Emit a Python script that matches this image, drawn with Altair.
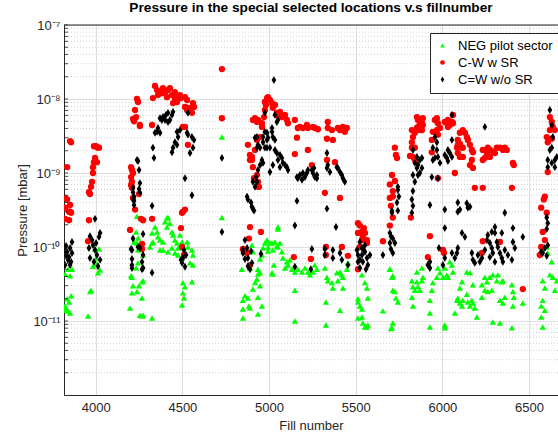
import altair as alt
import pandas as pd

# ---- data (fill number, pressure in mbar) ----
neg_fill = [3823, 3835, 3840, 3852, 3858, 3852, 3823, 3840, 3863, 3817, 3846, 3830,
            3967, 3956, 3996, 4019, 4007, 3984, 4013, 3973, 4025, 4002,
            4204, 4215, 4209, 4198, 4238, 4250, 4267, 4273, 4267, 4273, 4233, 4244, 4244, 4238,
            4238, 4233, 4221, 4244, 4209, 4255, 4325, 4267,
            4342, 4354, 4359, 4371, 4388, 4400, 4417, 4428, 4411, 4440, 4446, 4457, 4469, 4475,
            4486, 4498, 4527, 4532, 4555, 4561, 4544, 4561, 4313, 4330, 4371, 4388, 4417, 4440,
            4457, 4475, 4498, 4503, 4515, 4503, 4509, 4498, 4555, 4267, 4273, 4325, 4325, 4411,
            4728, 4728,
            4843, 4861, 4849, 4849, 4878, 4884, 4890, 4907, 4919, 4930, 4936, 4948, 4948, 4936,
            4959, 4988, 4994, 5005, 5022, 5051, 5045, 4901, 4907, 4890, 4959, 4948, 4976, 4988,
            4994, 5017, 5022, 5034, 5051, 5063, 5074, 5080, 5092, 5103, 5109, 5132, 5149, 5166,
            5190, 5207, 5224, 5236, 5253, 5264, 5276, 5322, 5334, 5339, 5363, 5368, 5391, 5409,
            5420, 5426, 5449, 5455, 5397, 5426, 5051, 4936, 5149, 5149, 5328, 5328, 5409, 5017,
            5028, 5120, 4965, 4849, 4936,
            5513, 5524, 5536, 5513, 5536, 5541, 5553, 5565, 5570, 5553, 5565, 5570, 5536, 5513,
            5657, 5697, 5709, 5709, 5697, 5714, 5726, 5732, 5714, 5703, 5743, 5714,
            5824, 5830, 5841, 5853, 5859, 5870, 5882, 5887, 5882, 5853, 5824, 5830, 5928, 5928,
            5939, 5945, 5968, 5974, 5986, 6003, 6026, 6032, 6055, 6061, 6014, 6043, 6084, 6089,
            6101, 6113, 6118, 6141, 6147, 6159, 6170, 6176, 6187, 6141, 6159, 6072, 6101, 6113,
            6176, 6228, 6245, 6257, 6274, 6291, 6314, 6320, 6245, 6262, 6285, 6228, 6199, 6332,
            6349, 6360, 6343, 6291, 6332, 6349, 6401, 6407, 6412, 6407, 6464, 6401, 5928, 6014,
            6014,
            6602, 6608, 6631, 6620, 6637, 6660, 6649, 6579, 6591, 6579, 6570, 6591, 6570, 6579]
neg_p = [1.6e-11, 2.0e-11, 1.37e-11, 1.28e-11, 2.2e-11, 4.1e-11, 4.3e-11, 5.0e-11, 5.0e-11, 1.4e-11, 1.8e-11, 1.5e-11,
         2.5e-11, 1.17e-11, 9.4e-11, 9.4e-11, 5.9e-11, 5.5e-11, 4.5e-11, 2.6e-11, 4.9e-11, 7.1e-11,
         4.1e-11, 3.0e-11, 2.4e-11, 1.5e-11, 2.5e-11, 3.0e-11, 2.05e-11, 3.5e-11, 1.17e-11, 1.2e-11, 5.2e-11, 6.1e-11, 1.32e-10, 1.13e-10,
         2.6e-10, 1.6e-10, 1.17e-10, 9.1e-11, 3.9e-11, 1.2e-11, 1.1e-11, 3.4e-11,
         1.86e-10, 1.6e-10, 1.37e-10, 1.24e-10, 1.17e-10, 2.2e-10, 2.5e-10, 2.1e-10, 1.86e-10, 1.6e-10, 1.45e-10, 1.24e-10, 1.13e-10, 9.7e-11,
         1.45e-10, 1.17e-10, 1.17e-10, 1.0e-10, 9.1e-11, 7.8e-11, 6.1e-11, 5.7e-11, 1.0e-10, 1.17e-10, 9.1e-11, 9.1e-11, 8.6e-11, 9.7e-11,
         8.3e-11, 7.8e-11, 7.1e-11, 3.3e-11, 2.9e-11, 2.4e-11, 2.05e-11, 1.65e-11, 3.4e-11, 1.0e-10, 7.8e-11, 1.13e-10, 1.55e-10, 2.46e-10,
         3.06e-9, 2.5e-10,
         5.0e-11, 2.2e-11, 1.45e-11, 1.1e-11, 2.05e-11, 1.6e-11, 1.5e-11, 2.7e-11, 3.3e-11, 3.7e-11, 4.3e-11, 4.5e-11, 3.0e-11, 1.24e-11,
         1.6e-11, 1.21e-10, 8.8e-11, 1.13e-10, 4.3e-11, 1.75e-10, 1.03e-10, 1.06e-10, 8.6e-11, 5.2e-11, 7.8e-11, 6.9e-11, 1.13e-10, 1.24e-10,
         1.0e-10, 1.13e-10, 9.1e-11, 1.17e-10, 1.0e-10, 1.13e-10, 8.6e-11, 7.1e-11, 5.2e-11, 6.3e-11, 5.7e-11, 5.0e-11, 4.6e-11, 5.0e-11,
         4.6e-11, 5.2e-11, 4.6e-11, 4.2e-11, 4.6e-11, 5.7e-11, 5.0e-11, 5.2e-11, 3.9e-11, 3.5e-11, 3.3e-11, 2.8e-11, 4.5e-11, 4.6e-11,
         4.2e-11, 3.9e-11, 5.0e-11, 6.1e-11, 3.5e-11, 2.8e-11, 1.86e-10, 5.0e-11, 2.6e-11, 1.0e-11, 8.8e-12, 1.8e-11, 1.4e-11, 4.5e-11,
         5.7e-11, 6.7e-11, 9.7e-11, 1.9e-11, 2.1e-11,
         1.8e-11, 1.6e-11, 1.45e-11, 1.1e-11, 1.13e-11, 9.4e-12, 8.3e-12, 8.3e-12, 8.8e-12, 3.3e-11, 2.8e-11, 2.05e-11, 4.2e-11, 2.0e-11,
         1.37e-11, 5.0e-11, 3.9e-11, 8.1e-12, 5.0e-11, 4.1e-11, 2.5e-11, 2.05e-11, 9.4e-12, 7.9e-12, 1.8e-11, 2.6e-11,
         3.5e-11, 2.9e-11, 2.6e-11, 3.4e-11, 2.9e-11, 2.6e-11, 3.5e-11, 3.9e-11, 5.2e-11, 4.6e-11, 2.1e-11, 1.6e-11, 1.28e-11, 1.9e-11,
         2.6e-11, 3.3e-11, 3.9e-11, 5.2e-11, 4.5e-11, 3.9e-11, 4.2e-11, 3.9e-11, 5.7e-11, 4.6e-11, 5.2e-11, 6.3e-11, 1.9e-11, 2.05e-11,
         1.75e-11, 1.6e-11, 1.9e-11, 2.3e-11, 1.8e-11, 1.6e-11, 1.9e-11, 1.75e-11, 1.5e-11, 4.6e-11, 4.5e-11, 1.28e-11, 2.8e-11, 3.4e-11,
         3.1e-11, 3.1e-11, 3.9e-11, 3.4e-11, 3.9e-11, 4.2e-11, 3.5e-11, 4.2e-11, 2.6e-11, 2.5e-11, 2.6e-11, 2.1e-11, 1.13e-11, 1.9e-11,
         1.75e-11, 2.1e-11, 3.4e-11, 9.7e-12, 9.4e-12, 3.5e-11, 3.1e-11, 2.5e-11, 2.1e-11, 1.6e-11, 1.75e-11, 8.1e-12, 8.3e-12, 8.8e-12,
         8.1e-12,
         1.0e-10, 8.3e-11, 6.3e-11, 4.2e-11, 3.9e-11, 3.5e-11, 2.6e-11, 3.5e-11, 2.8e-11, 1.9e-11, 1.6e-11, 1.4e-11, 1.13e-11, 8.3e-12]

cw_fill = [3852, 3858, 3835, 3823, 3835, 3852, 3846, 3858, 3823, 3817, 3852, 3846, 3823,
           3961, 3973, 3979, 3984, 3984, 3990, 3996, 3990, 4002, 4013, 4019, 4007, 3967, 3956, 3961,
           4204, 4209, 4209, 4215, 4215, 4238, 4244, 4227, 4233, 4215, 4221, 4255, 4255, 4204, 4209,
           4204, 4209, 4250, 4227, 4261, 4198, 4273, 4267, 4267,
           4342, 4354, 4330, 4359, 4382, 4400, 4417, 4428, 4411, 4440, 4457, 4469, 4446, 4475, 4515,
           4527, 4532, 4561, 4567, 4538, 4555, 4325, 4515, 4532, 4503, 4515, 4498, 4492, 4503, 4515,
           4527, 4561, 4492, 4509, 4325, 4498, 4371, 4388, 4457, 4486,
           4728, 4728,
           4878, 4890, 4901, 4890, 4901, 4907, 4930, 4936, 4942, 4913, 4919, 4936, 4959, 4976, 4976,
           4988, 5005, 5017, 5022, 5034, 5045, 4919, 4930, 4948, 4959, 4971, 4982, 4994, 5045, 5063,
           5074, 5092, 5103, 5109, 4907, 4930, 5149, 5166, 5178, 5195, 5218, 5224, 5253, 5264, 5282,
           5339, 5339, 5363, 5397, 5409, 5426, 5437, 5449, 5161, 5224, 5149, 5334, 5368, 5247, 5334,
           5380, 5322, 5409, 4936, 4849, 4873, 4890, 4884, 4953, 4890, 5143, 5241, 5328, 5328, 5420,
           5455,
           5524, 5536, 5513, 5541, 5553, 5536, 5565, 5565, 5524, 5513, 5513, 5547,
           5697, 5714, 5726, 5732, 5738, 5709, 5697, 5714, 5703, 5714, 5657, 5697,
           5824, 5830, 5824, 5824, 5841, 5830, 5841, 5853, 5859, 5870, 5882, 5853, 5870, 5887, 5887,
           5882, 5841, 5859, 5939, 5945, 5957, 5968, 5974, 5968, 5974, 5986, 6014, 6026, 6032, 6043,
           6055, 6061, 6032, 6061, 5726, 5813, 5974, 5939, 5818,
           6089, 6101, 6113, 6089, 6084, 6130, 6141, 6147, 6159, 6118, 6170, 6176, 6170, 6159, 6176,
           6101, 6118, 6072, 6101, 6118, 6089, 6187, 6233, 6233, 6257, 6274, 6291, 6314, 6332, 6360,
           6372, 6245, 6274, 6303, 6407, 6412, 6401, 6233, 5928, 5916, 6003, 6009, 6233, 6228, 6332,
           6464, 6262, 6349,
           6620, 6631, 6637, 6649, 6620, 6608, 6602, 6631, 6608, 6591, 6585, 6570, 6602, 6579, 6591,
           6570, 6562]
cw_p = [2.7e-9, 2.6e-9, 1.2e-9, 4.6e-10, 4.4e-10, 3.7e-10, 3.0e-10, 2.9e-10, 3.4e-10, 3.4e-10, 3.0e-10, 2.3e-10, 2.4e-10,
        5.5e-10, 6.5e-10, 7.6e-10, 1.0e-9, 1.2e-9, 1.4e-9, 1.6e-9, 2.3e-9, 2.3e-9, 2.2e-9, 2.2e-9, 1.4e-9, 5.2e-10, 1.2e-10, 2.3e-10,
        8.8e-10, 7.6e-10, 6.5e-10, 4.6e-10, 1.0e-9, 1.0e-8, 9.1e-9, 7.1e-9, 5.7e-9, 5.4e-9, 5.0e-9, 4.45e-9, 4.3e-9, 1.2e-9, 1.1e-9,
        6.9e-10, 6.3e-10, 5.2e-10, 3.2e-10, 2.4e-10, 1.7e-10, 2.3e-10, 1.1e-10, 9.4e-11,
        1.5e-8, 1.32e-8, 1.03e-8, 1.13e-8, 1.2e-8, 1.24e-8, 1.32e-8, 1.4e-8, 1.06e-8, 1.13e-8, 1.03e-8, 9.1e-9, 8.8e-9, 1.06e-8, 1.06e-8,
        9.7e-9, 7.6e-9, 8.8e-9, 7.8e-9, 6.7e-9, 6.5e-9, 4.45e-9, 4.2e-9, 2.4e-9, 3.0e-10, 3.2e-10, 2.9e-10, 1.03e-8, 4.2e-9, 7.8e-9,
        7.1e-9, 7.8e-9, 1.8e-10, 7.8e-11, 2.4e-10, 1.0e-10, 1.24e-8, 1.4e-8, 1.24e-8, 1.13e-8,
        2.54e-8, 5.5e-9,
        2.4e-9, 1.75e-9, 1.65e-9, 1.5e-9, 1.5e-9, 1.2e-9, 9.4e-10, 7.6e-10, 6.5e-10, 8.5e-10, 5.5e-9, 5.2e-9, 4.7e-9, 7.1e-9, 9.1e-9,
        1.03e-8, 9.7e-9, 8.8e-9, 7.6e-9, 8.3e-9, 6.1e-9, 2.05e-9, 2.8e-9, 3.06e-9, 4.2e-9, 5.7e-9, 8.3e-9, 1.06e-8, 6.5e-9, 6.7e-9,
        5.7e-9, 6.1e-9, 5.2e-9, 4.7e-9, 5.2e-9, 4.9e-9, 5.2e-9, 4.06e-9, 4.2e-9, 4.06e-9, 4.45e-9, 4.06e-9, 4.2e-9, 4.06e-9, 3.9e-9,
        4.9e-9, 4.06e-9, 3.8e-9, 4.06e-9, 3.8e-9, 4.2e-9, 3.6e-9, 4.06e-9, 3.0e-9, 2.05e-9, 1.8e-9, 2.9e-9, 2.8e-9, 1.28e-9, 1.5e-9,
        1.4e-9, 5.4e-10, 4.6e-10, 6.5e-10, 9.4e-11, 8.3e-11, 1.86e-10, 1.3e-10, 1.6e-10, 5.7e-11, 7.3e-11, 6.9e-11, 1.0e-10, 7.8e-11, 1.0e-10,
        7.6e-11,
        1.95e-10, 1.6e-10, 1.55e-10, 1.37e-10, 1.55e-10, 1.24e-10, 1.24e-10, 1.13e-10, 1.0e-10, 5.0e-11, 2.1e-10, 1.8e-10,
        4.6e-10, 5.7e-10, 7.8e-10, 1.75e-9, 1.6e-9, 9.4e-10, 7.0e-10, 4.8e-10, 3.6e-10, 2.5e-10, 1.2e-10, 1.95e-10,
        3.8e-9, 3.06e-9, 2.6e-9, 2.2e-9, 2.2e-9, 1.65e-9, 1.5e-9, 5.7e-9, 5.2e-9, 4.9e-9, 4.7e-9, 4.06e-9, 3.8e-9, 4.45e-9, 5.5e-9,
        3.8e-9, 3.5e-9, 4.2e-9, 2.8e-9, 3.6e-9, 5.2e-9, 5.5e-9, 4.7e-9, 3.8e-9, 3.3e-9, 4.06e-9, 4.9e-9, 4.7e-9, 5.2e-9, 4.45e-9,
        4.9e-9, 4.7e-9, 4.2e-9, 6.1e-9, 2.2e-9, 1.7e-9, 8.5e-10, 1.9e-9, 2.5e-10,
        2.8e-9, 2.5e-9, 2.2e-9, 2.4e-9, 2.2e-9, 3.5e-9, 3.06e-9, 2.8e-9, 2.4e-9, 2.2e-9, 2.05e-9, 1.9e-9, 1.5e-9, 1.28e-9, 1.17e-9,
        1.65e-9, 1.65e-9, 1.0e-9, 3.5e-9, 3.8e-9, 1.86e-9, 6.3e-10, 6.3e-10, 2.05e-9, 1.86e-9, 2.05e-9, 1.95e-9, 2.2e-9, 2.2e-9, 2.2e-9,
        2.05e-9, 1.6e-9, 1.65e-9, 1.86e-9, 1.37e-9, 1.28e-9, 6.3e-10, 1.5e-9, 1.4e-10, 7.3e-11, 9.1e-11, 8.3e-11, 1.2e-10, 8.3e-11, 1.17e-10,
        2.7e-11, 2.2e-9, 2.05e-9,
        5.7e-9, 4.9e-9, 4.2e-9, 3.8e-9, 3.8e-9, 2.6e-9, 3.06e-9, 2.9e-9, 1.03e-9, 4.8e-10, 4.4e-10, 3.4e-10, 2.9e-10, 1.6e-10, 1.24e-10,
        1.0e-10, 7.8e-11]

cwo_fill = [3817, 3829, 3840, 3852, 3858, 3823, 3835, 3846, 3863, 3852, 3829, 3863,
            3967, 3979, 3984, 3996, 4007, 3967, 3990, 4013, 4025, 4002, 4019, 3961, 4025, 3996,
            4238, 4244, 4250, 4255, 4215, 4215, 4221, 4221, 4250, 4255, 4215, 4221, 4204, 4209, 4209,
            4273, 4267, 4273, 4215, 4244, 4255, 4273, 4209, 4209, 4267,
            4371, 4382, 4388, 4405, 4417, 4440, 4446, 4428, 4359, 4354, 4342, 4371, 4469, 4475, 4457,
            4469, 4446, 4440, 4532, 4527, 4532, 4555, 4567, 4561, 4544, 4330, 4336, 4515, 4555, 4325,
            4400, 4417, 4486, 4503, 4498, 4515, 4492, 4509, 4521, 4325,
            4728, 4728,
            4873, 4878, 4896, 4901, 4907, 4913, 4919, 4930, 4925, 4936, 4948, 4959, 4930, 4936, 4919,
            4930, 4965, 4976, 4988, 4976, 4988, 4994, 5017, 5022, 5034, 5051, 5045, 4976, 5005, 5022,
            5034, 5063, 5074, 5080, 5092, 5103, 5109, 5028, 4907, 4965, 4948, 4965, 5017, 4988, 5005,
            5045, 5051, 5063, 5034,
            5161, 5178, 5195, 5218, 5190, 5166, 5253, 5264, 5276, 5259, 5276, 5207, 5224, 5247, 5334,
            5339, 5351, 5334, 5397, 5409, 5420, 5426, 5437, 5391, 5161, 5334, 5149, 4953, 5386, 5149,
            5241, 5247, 5322, 5368, 5409, 5420, 5455, 5368, 5322,
            4849, 4861, 4873, 4878, 4890, 4896, 4878, 4861, 4849, 4901,
            5507, 5513, 5524, 5536, 5541, 5553, 5565, 5570, 5524, 5553, 5536, 5513, 5559, 5582, 5524,
            5547, 5657,
            5697, 5703, 5714, 5697, 5726, 5703, 5714, 5709, 5709, 5743, 5749, 5743, 5743, 5738,
            5830, 5853, 5841, 5859, 5870, 5882, 5853, 5870, 5859, 5882, 5830, 5841, 5830, 5824, 5830,
            5824, 5957, 5968, 5945, 5968, 5957, 5945, 5974, 5986, 5939, 6014, 6026, 6032, 6043, 6055,
            6032, 6055, 6055, 5974, 6014, 6245,
            6089, 6089, 6101, 6141, 6147, 6159, 6014, 6113, 6130, 5928, 6360, 6170, 6176, 6187, 6228,
            6245, 6257, 6262, 6274, 6285, 6291, 6303, 6314, 6320, 6332, 6343, 6349, 6303, 6274, 6360,
            6378, 6401, 6407, 6418, 6407, 6464, 6084, 6072, 6089, 6014, 6003, 6055, 5928, 5916, 5928,
            5980, 6285, 6303, 6343, 6205, 6216,
            6620, 6631, 6637, 6631, 6620, 6608, 6631, 6649, 6660, 6649, 6608, 6602, 6608, 6602, 6608,
            6591, 6579, 6602, 6570]
cwo_p = [9.1e-11, 7.8e-11, 6.7e-11, 9.7e-11, 6.3e-11, 5.7e-11, 8.6e-11, 7.3e-11, 1.17e-10, 5.7e-11, 1.03e-10, 8.3e-11,
         1.4e-10, 1.24e-10, 1.06e-10, 9.1e-11, 7.8e-11, 7.1e-11, 6.3e-11, 5.5e-11, 6.7e-11, 1.13e-10, 1.37e-10, 9.7e-11, 1.55e-10, 2.4e-10,
         1.5e-9, 1.45e-9, 1.1e-9, 7.3e-10, 6.3e-10, 5.5e-10, 4.8e-10, 4.2e-10, 6.1e-10, 5.4e-10, 4.4e-10, 3.7e-10, 9.4e-11, 6.9e-11, 5.2e-11,
         5.2e-11, 5.0e-11, 1.5e-10, 1.3e-10, 1.0e-10, 9.7e-11, 7.8e-11, 9.1e-11, 5.7e-11, 6.3e-11,
         5.5e-9, 5.2e-9, 5.7e-9, 6.1e-9, 6.5e-9, 6.1e-9, 6.7e-9, 5.2e-9, 4.06e-9, 3.6e-9, 3.5e-9, 3.5e-9, 3.6e-9, 3.06e-9, 2.6e-9,
         2.4e-9, 2.2e-9, 1.9e-9, 6.5e-9, 3.5e-9, 3.3e-9, 3.06e-9, 2.8e-9, 2.2e-9, 1.86e-9, 2.2e-9, 1.6e-9, 8.5e-10, 5.0e-10, 3.6e-10,
         5.2e-9, 4.9e-9, 3.8e-9, 7.1e-11, 6.1e-11, 5.4e-11, 6.7e-11, 9.1e-11, 7.8e-11, 4.5e-11,
         1.6e-9, 1.6e-10,
         4.8e-10, 4.4e-10, 4.0e-10, 3.5e-10, 3.3e-10, 3.1e-10, 6.5e-10, 7.6e-10, 8.8e-10, 1.1e-9, 1.28e-9, 1.5e-9, 2.2e-9, 2.4e-9, 3.0e-9,
         3.06e-9, 2.6e-9, 2.2e-9, 2.2e-9, 3.6e-9, 3.5e-9, 3.0e-9, 3.6e-9, 3.06e-9, 2.8e-9, 5.2e-9, 4.9e-9, 6.5e-9, 1.03e-9, 1.28e-9,
         2.05e-9, 1.75e-9, 1.6e-9, 1.37e-9, 1.28e-9, 1.2e-9, 1.1e-9, 1.8e-8, 7.6e-10, 1.37e-9, 2.2e-9, 3.06e-9, 4.06e-9, 2.8e-9, 2.2e-9,
         1.86e-9, 1.5e-9, 1.2e-9, 6.1e-9,
         8.8e-10, 9.4e-10, 1.0e-9, 1.0e-9, 8.1e-10, 8.5e-10, 1.0e-9, 8.8e-10, 9.4e-10, 1.17e-9, 8.5e-10, 8.8e-10, 1.1e-9, 1.1e-9, 1.17e-9,
         1.28e-9, 1.03e-9, 1.86e-9, 1.17e-9, 1.03e-9, 9.4e-10, 8.5e-10, 7.6e-10, 1.2e-9, 4.2e-10, 3.3e-10, 1.95e-10, 8.1e-11, 1.86e-10, 5.4e-11,
         5.0e-11, 9.4e-11, 9.4e-11, 9.1e-11, 8.3e-11, 6.7e-11, 5.7e-11, 7.1e-11, 7.8e-11,
         8.3e-11, 6.9e-11, 9.7e-11, 5.5e-11, 5.0e-11, 8.8e-11, 7.1e-11, 1.24e-10, 9.1e-11, 6.1e-11,
         9.1e-11, 7.8e-11, 6.7e-11, 9.7e-11, 6.3e-11, 8.6e-11, 7.1e-11, 5.7e-11, 5.2e-11, 1.06e-10, 7.8e-11, 6.3e-11, 5.0e-11, 7.8e-11, 1.17e-10,
         9.1e-11, 7.8e-11,
         1.55e-10, 1.4e-10, 1.3e-10, 1.13e-10, 1.13e-10, 9.4e-11, 8.3e-11, 3.1e-10, 2.9e-10, 6.5e-10, 4.8e-10, 3.1e-10, 5.9e-10, 4.0e-10,
         2.05e-9, 1.65e-9, 1.37e-9, 1.28e-9, 1.5e-9, 1.6e-9, 1.17e-9, 1.0e-9, 9.4e-10, 1.17e-9, 9.4e-10, 7.6e-10, 5.7e-10, 4.4e-10, 3.6e-10,
         2.9e-10, 3.06e-9, 2.6e-9, 2.2e-9, 2.05e-9, 1.6e-9, 1.5e-9, 1.65e-9, 1.37e-9, 8.8e-10, 1.75e-9, 1.6e-9, 2.05e-9, 1.86e-9, 1.65e-9,
         1.45e-9, 2.8e-9, 6.1e-9, 8.5e-10, 3.2e-10, 4.2e-9,
         4.0e-10, 3.0e-10, 3.2e-10, 3.9e-10, 3.4e-10, 3.5e-10, 1.8e-10, 1.55e-10, 1.37e-10, 3.7e-10, 2.9e-10, 8.3e-11, 6.7e-11, 6.1e-11, 7.1e-11,
         9.1e-11, 1.24e-10, 1.45e-10, 1.13e-10, 9.7e-11, 8.3e-11, 1.55e-10, 1.17e-10, 1.0e-10, 8.3e-11, 7.1e-11, 6.3e-11, 6.3e-11, 7.3e-11, 9.1e-11,
         7.8e-11, 6.7e-11, 1.17e-10, 9.7e-11, 1.8e-10, 1.37e-10, 8.3e-11, 7.1e-11, 9.7e-11, 7.1e-11, 5.7e-11, 8.3e-11, 5.2e-11, 5.7e-11, 6.3e-11,
         9.7e-11, 1.6e-10, 1.86e-10, 1.55e-10, 7.8e-11, 6.3e-11,
         7.1e-9, 4.45e-9, 3.06e-9, 2.2e-9, 2.05e-9, 1.5e-9, 1.37e-9, 1.5e-9, 1.65e-9, 1.2e-9, 1.2e-9, 2.5e-10, 2.1e-10, 1.75e-10, 1.06e-10,
         9.7e-11, 8.3e-11, 7.6e-11, 8.6e-11]

series_names = ["NEG pilot sector", "C-W w SR", "C=W w/o SR"]
series_colors = ["#00ff00", "#ff0000", "#000000"]
series_shapes = ["triangle-up", "circle", "M0,-1.25L0.75,0L0,1.25L-0.75,0Z"]

x_ticks = [4000, 4500, 5000, 5500, 6000, 6500]
y_decades = [1e-11, 1e-10, 1e-9, 1e-8, 1e-7]
y_labels = ["10⁻¹¹", "10⁻¹⁰", "10⁻⁹", "10⁻⁸", "10⁻⁷"]
y_minor = [m * d for d in [1e-12, 1e-11, 1e-10, 1e-9, 1e-8] for m in range(2, 10)]

x_domain = [3817, 6667]
y_domain = [1e-12, 1e-7]

# ---- build table ----
frames = []
for name, fl, pl in zip(series_names, [neg_fill, cw_fill, cwo_fill], [neg_p, cw_p, cwo_p]):
    n = min(len(fl), len(pl))
    frames.append(pd.DataFrame({"fill": fl[:n], "p": pl[:n], "series": name}))
df = pd.concat(frames, ignore_index=True)
df["order"] = df["series"].map({n: i for i, n in enumerate(series_names)})

FONT = "Liberation Sans"
AX = "#262626"

label_expr = "''"
for d, l in zip(y_decades, y_labels):
    label_expr = f"abs(datum.value/{d:g} - 1) < 0.01 ? '{l}' : " + label_expr

xs = alt.Scale(domain=x_domain, nice=False, zero=False)
ys = alt.Scale(type="log", domain=y_domain, nice=False)

y_axis = alt.Axis(values=y_decades, labelExpr=label_expr, title="Pressure [mbar]",
                  grid=True, gridColor="#dedede", ticks=False, labelPadding=4,
                  titlePadding=3)
x_axis = alt.Axis(values=x_ticks, title="Fill number", grid=True, gridColor="#dedede",
                  ticks=False, labelPadding=6, titlePadding=5, format="d")

minor_df = pd.DataFrame({"p": y_minor})
tick_df = pd.DataFrame({"p": y_minor + y_decades})

minor_grid = alt.Chart(minor_df).mark_rule(
    color="#c4c4c4", strokeDash=[1, 2], strokeWidth=0.8
).encode(y=alt.Y("p:Q", scale=ys, axis=y_axis))

left_ticks = alt.Chart(tick_df).mark_rule(color=AX, strokeWidth=0.8).encode(
    y=alt.Y("p:Q", scale=ys, axis=y_axis), x=alt.value(0), x2=alt.value(4)
)

top_border = alt.Chart(pd.DataFrame({"p": [y_domain[1]]})).mark_rule(
    color=AX, strokeWidth=1
).encode(y=alt.Y("p:Q", scale=ys, axis=y_axis))

points = alt.Chart(df).mark_point(filled=True, size=40, opacity=1, clip=True).encode(
    x=alt.X("fill:Q", scale=xs, axis=x_axis),
    y=alt.Y("p:Q", scale=ys, axis=y_axis),
    color=alt.Color("series:N", scale=alt.Scale(domain=series_names, range=series_colors),
                    legend=alt.Legend(title=None, orient="none", legendX=366, legendY=8,
                                      strokeColor=AX, fillColor="white", padding=6,
                                      labelFontSize=13, labelFont=FONT, labelColor="#000000",
                                      symbolSize=22, rowPadding=3, labelOffset=9,
                                      symbolStrokeWidth=0)),
    shape=alt.Shape("series:N", scale=alt.Scale(domain=series_names, range=series_shapes),
                    legend=alt.Legend(title=None, orient="none", legendX=366, legendY=8)),
    order=alt.Order("order:Q"),
)

chart = alt.layer(minor_grid, points, left_ticks, top_border).properties(
    width=494, height=370,
    title=alt.TitleParams("Pressure in the special selected locations v.s fillnumber",
                          font=FONT, fontSize=13.7, fontWeight="bold", color="#000000",
                          anchor="middle", offset=4),
    autosize=alt.AutoSizeParams(type="none"),
    padding={"left": 64, "top": 25, "right": 0, "bottom": 37},
).configure_view(stroke=None).configure_axis(
    labelFont=FONT, titleFont=FONT, labelFontSize=13, titleFontSize=13,
    labelColor=AX, titleColor=AX, titleFontWeight="normal",
    domainColor=AX, domainWidth=1
)

chart.save("out.html", embed_options={"renderer": "svg", "actions": False})
